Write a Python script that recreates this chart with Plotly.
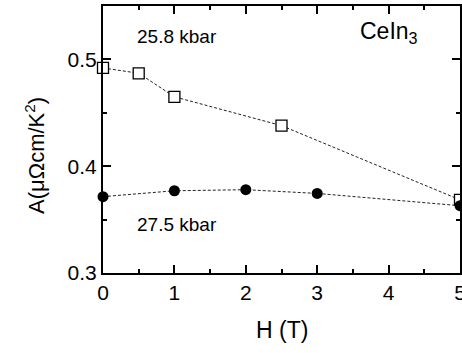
import plotly.graph_objects as go

# Data
h_258 = [0, 0.5, 1, 2.5, 5]
a_258 = [0.492, 0.487, 0.465, 0.438, 0.3685]
h_275 = [0, 1, 2, 3, 5]
a_275 = [0.3715, 0.377, 0.378, 0.3745, 0.363]

x_ticks = [0, 1, 2, 3, 4, 5]
y_ticks = [0.3, 0.4, 0.5]

FONT = "Liberation Sans, Arial, sans-serif"

fig = go.Figure()
fig.add_trace(go.Scatter(
    x=h_258, y=a_258, mode="lines+markers", cliponaxis=False,
    line=dict(color="#222", width=1, dash="3px,2px"),
    marker=dict(symbol="square", size=11, color="white",
                line=dict(color="black", width=1.3)),
    showlegend=False))
fig.add_trace(go.Scatter(
    x=h_275, y=a_275, mode="lines+markers", cliponaxis=False,
    line=dict(color="#222", width=1, dash="3px,2px"),
    marker=dict(symbol="circle", size=11, color="black",
                line=dict(color="black", width=0)),
    showlegend=False))

axis_common = dict(
    showline=True, linecolor="black", linewidth=2, mirror="ticks",
    ticks="inside", ticklen=8, tickwidth=2, tickcolor="black",
    showgrid=False, zeroline=False, ticklabeloverflow="allow",
    automargin=False,
    tickfont=dict(family=FONT, size=21, color="black"),
)

fig.update_xaxes(range=[0, 5], tickvals=x_ticks, ticktext=[str(v) for v in x_ticks],
                 minor=dict(ticks="inside", ticklen=4, tickwidth=2, tickcolor="black", dtick=0.5),
                 **axis_common)
fig.update_yaxes(range=[0.3, 0.55], tickvals=y_ticks, ticktext=[f"{v:.1f}" for v in y_ticks],
                 minor=dict(ticks="inside", ticklen=4, tickwidth=2, tickcolor="black", dtick=0.05, tick0=0.3),
                 **axis_common)

fig.add_annotation(text="H (T)", xref="paper", yref="paper", x=0.5, y=-0.215,
                   showarrow=False, xanchor="center", yanchor="middle",
                   font=dict(family=FONT, size=23, color="black"))
fig.add_annotation(text="A(μΩcm/K<sup>2</sup>)", xref="paper", yref="paper",
                   x=-0.192, y=0.44, textangle=-90, showarrow=False,
                   xanchor="center", yanchor="middle",
                   font=dict(family=FONT, size=22, color="black"))
fig.add_annotation(text="25.8 kbar", xref="x", yref="y", x=0.45, y=0.5215,
                   showarrow=False, xanchor="left", yanchor="middle",
                   font=dict(family=FONT, size=19, color="black"))
fig.add_annotation(text="27.5 kbar", xref="x", yref="y", x=0.45, y=0.3455,
                   showarrow=False, xanchor="left", yanchor="middle",
                   font=dict(family=FONT, size=19, color="black"))
fig.add_annotation(text="CeIn<sub>3</sub>", xref="x", yref="y", x=3.57, y=0.525,
                   showarrow=False, xanchor="left", yanchor="middle",
                   font=dict(family=FONT, size=23, color="black"))

fig.update_layout(
    width=462, height=353,
    margin=dict(l=103, r=2, t=6, b=80, autoexpand=False),
    plot_bgcolor="white", paper_bgcolor="white",
    font=dict(family=FONT, color="black"),
)

fig.write_html("out.html")
